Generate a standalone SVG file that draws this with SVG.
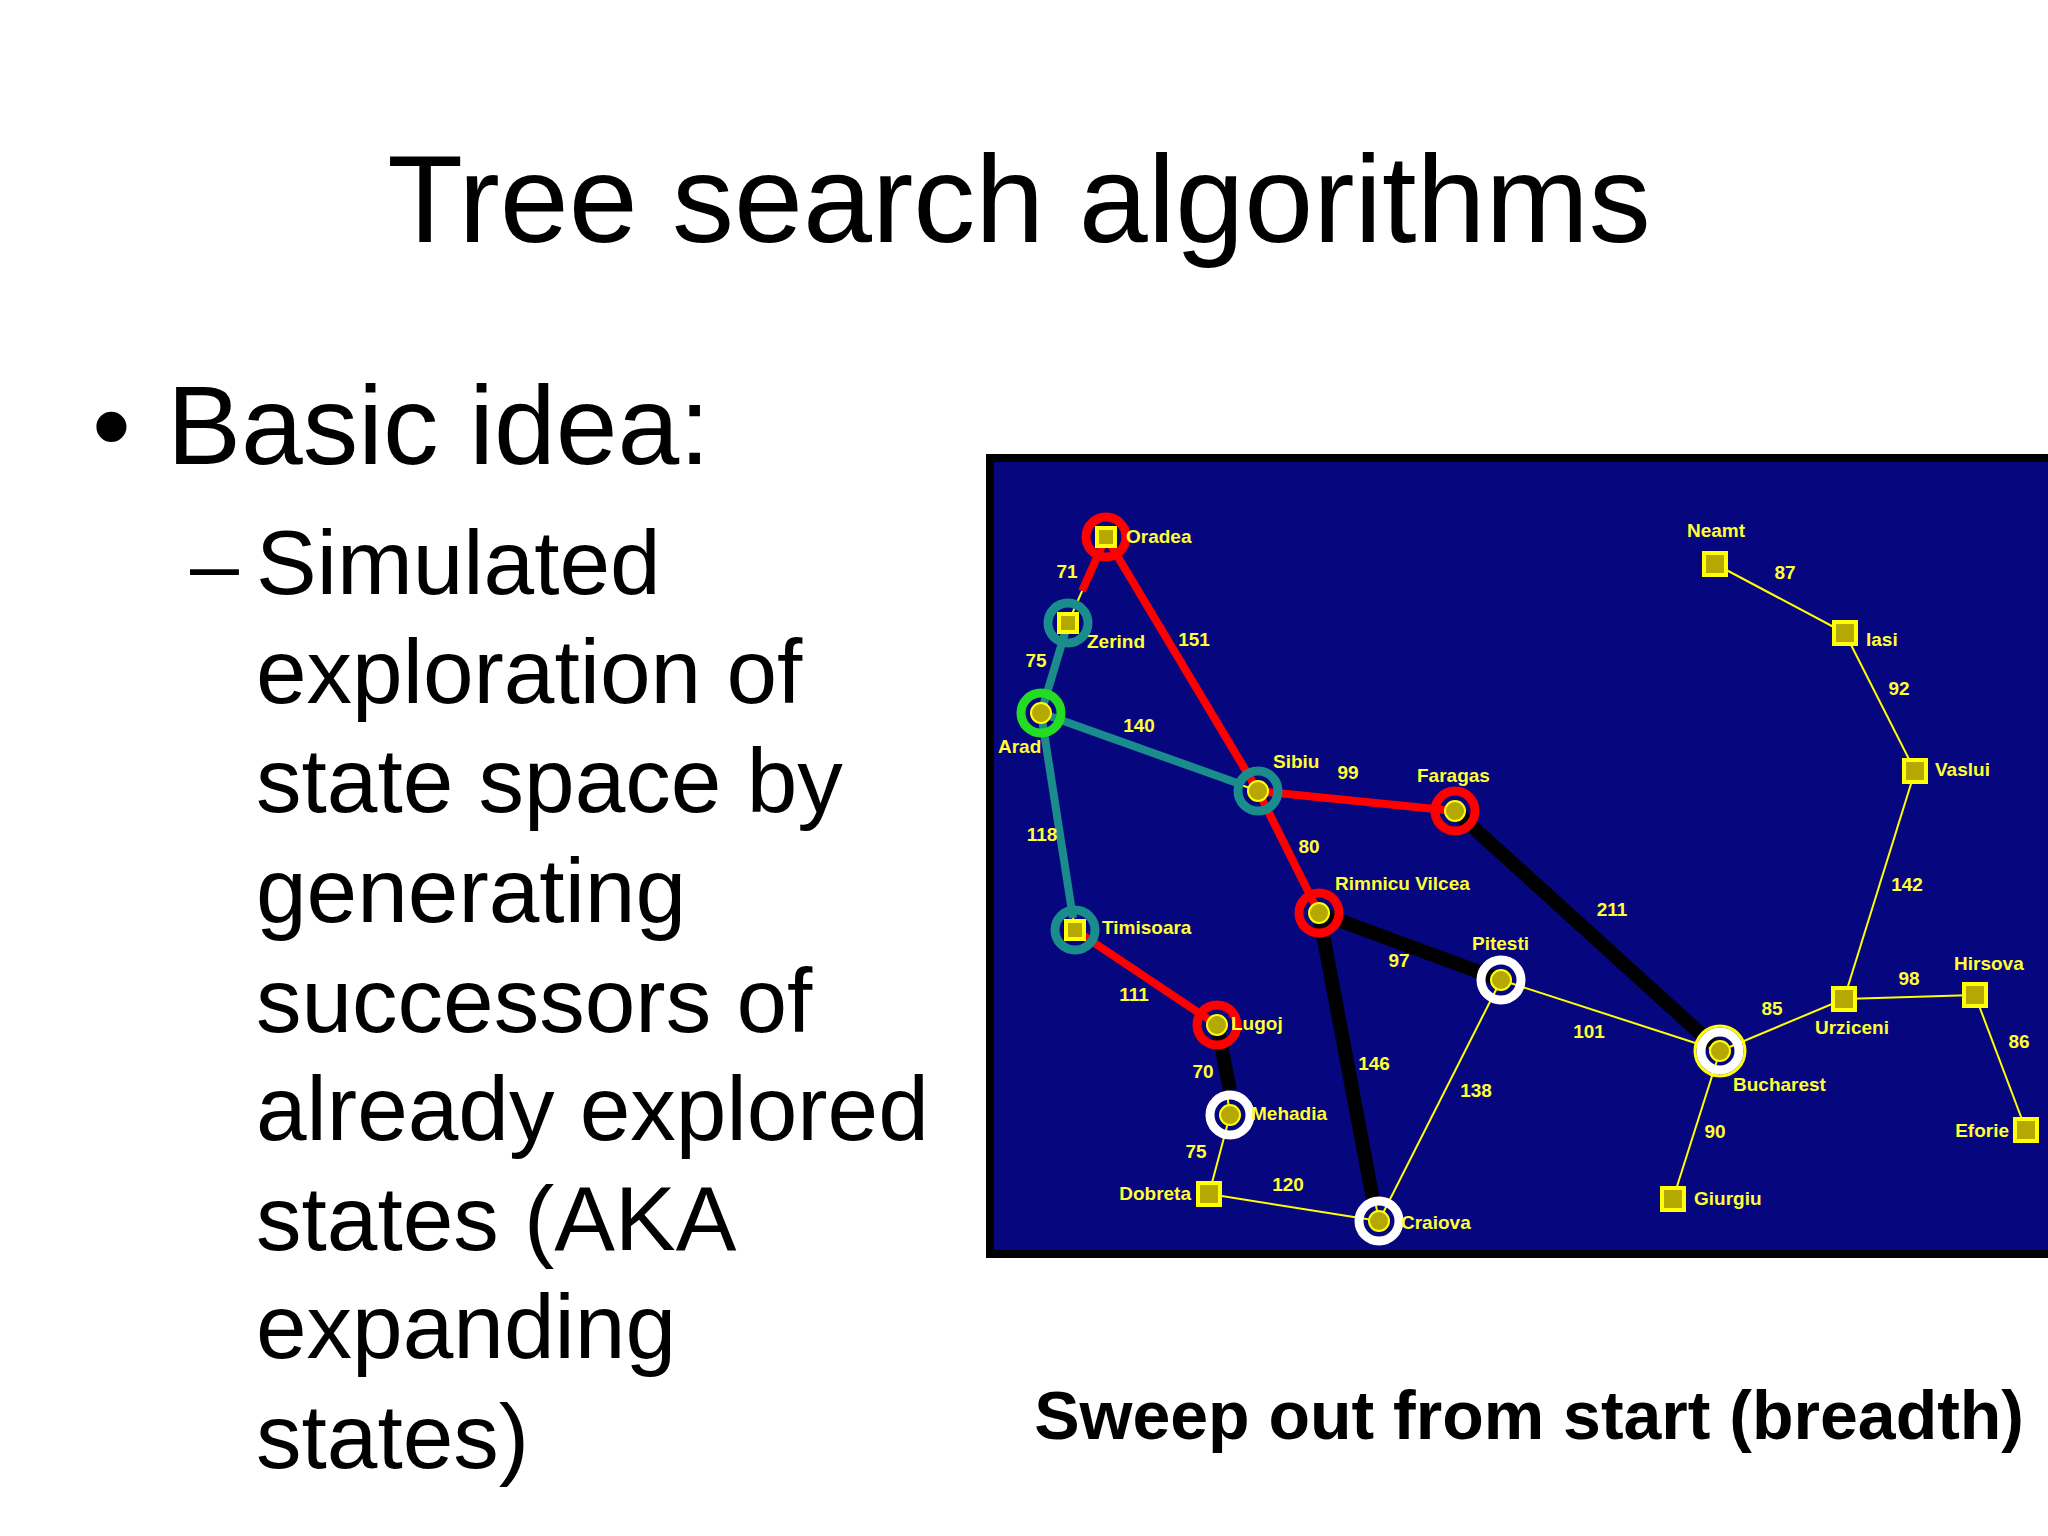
<svg xmlns="http://www.w3.org/2000/svg" width="2048" height="1536" viewBox="0 0 2048 1536">
<style>
.t{font-family:"Liberation Sans",Arial,sans-serif;fill:#000}
.l{font-family:"Liberation Sans",Arial,sans-serif;font-weight:bold;font-size:19px;fill:#ffff33}
.e{font-family:"Liberation Sans",Arial,sans-serif;font-weight:bold;font-size:19px;fill:#ffff33;text-anchor:middle}
.y{stroke:#ffff00;stroke-width:2;fill:none}
.red{stroke:#ff0000;stroke-width:8}
.teal{stroke:#1a8c8c;stroke-width:8}
.blk{stroke:#000;stroke-width:14}
.sq{fill:#b5a800;stroke:#ffff00;stroke-width:4}
.dot{fill:#b5a800;stroke:#ffff00;stroke-width:2}
</style>
<rect width="2048" height="1536" fill="#fff"/>
<text class="t" x="1019" y="242" font-size="124" text-anchor="middle">Tree search algorithms</text>
<text class="t" x="92" y="464" font-size="111">•</text>
<text class="t" x="167" y="464" font-size="111">Basic idea:</text>
<text class="t" x="190" y="594" font-size="88">–</text>
<g class="t" font-size="91">
<text x="256" y="594">Simulated</text>
<text x="256" y="703">exploration of</text>
<text x="256" y="812">state space by</text>
<text x="256" y="922">generating</text>
<text x="256" y="1032">successors of</text>
<text x="256" y="1140">already explored</text>
<text x="256" y="1250">states (AKA</text>
<text x="256" y="1358">expanding</text>
<text x="256" y="1468">states)</text>
</g>
<text class="t" x="2024" y="1439" font-size="68" font-weight="bold" text-anchor="end">Sweep out from start (breadth)</text>
<rect x="990" y="458" width="1070" height="796" fill="#06067f" stroke="#000" stroke-width="8"/>
<g id="connectors">
<g class="y">
<line x1="1106" y1="537" x2="1068" y2="623"/><line x1="1106" y1="537" x2="1258" y2="791"/>
<line x1="1068" y1="623" x2="1041" y2="713"/><line x1="1041" y1="713" x2="1258" y2="791"/>
<line x1="1041" y1="713" x2="1075" y2="930"/><line x1="1258" y1="791" x2="1455" y2="811"/>
<line x1="1258" y1="791" x2="1319" y2="913"/><line x1="1075" y1="930" x2="1217" y2="1025"/>
<line x1="1217" y1="1025" x2="1230" y2="1115"/><line x1="1230" y1="1115" x2="1209" y2="1194"/>
<line x1="1209" y1="1194" x2="1379" y2="1221"/><line x1="1319" y1="913" x2="1379" y2="1221"/>
<line x1="1319" y1="913" x2="1501" y2="980"/><line x1="1379" y1="1221" x2="1501" y2="980"/>
<line x1="1501" y1="980" x2="1720" y2="1051"/><line x1="1455" y1="811" x2="1720" y2="1051"/>
<line x1="1720" y1="1051" x2="1673" y2="1199"/><line x1="1720" y1="1051" x2="1844" y2="999"/>
<line x1="1844" y1="999" x2="1975" y2="995"/><line x1="1975" y1="995" x2="2026" y2="1130"/>
<line x1="1844" y1="999" x2="1915" y2="771"/><line x1="1915" y1="771" x2="1845" y2="633"/>
<line x1="1845" y1="633" x2="1715" y2="564"/>
</g>
<line class="red" x1="1106" y1="537" x2="1082" y2="591"/>
<line class="red" x1="1106" y1="537" x2="1258" y2="791"/>
<line class="teal" x1="1068" y1="623" x2="1041" y2="713"/>
<line class="teal" x1="1041" y1="713" x2="1240" y2="784"/>
<line class="teal" x1="1041" y1="713" x2="1073" y2="918"/>
<line class="red" x1="1258" y1="791" x2="1455" y2="811"/>
<line class="red" x1="1258" y1="791" x2="1319" y2="913"/>
<line class="red" x1="1075" y1="930" x2="1217" y2="1025"/>
<line class="blk" x1="1217" y1="1025" x2="1230" y2="1090"/>
<line class="blk" x1="1455" y1="811" x2="1712" y2="1044"/>
<line class="blk" x1="1319" y1="913" x2="1501" y2="980"/>
<line class="blk" x1="1319" y1="913" x2="1374" y2="1205"/>
</g>
<g id="nodes">
<g id="n-oradea"><circle cx="1106" cy="537" r="20" fill="none" stroke="#f00" stroke-width="9"/><rect class="sq" x="1097" y="528" width="18" height="18"/><text class="l" x="1126" y="543">Oradea</text></g>
<g id="n-zerind"><circle cx="1068" cy="623" r="20" fill="none" stroke="#1a8c8c" stroke-width="9"/><rect class="sq" x="1059" y="614" width="18" height="18"/><text class="l" x="1087" y="648">Zerind</text></g>
<g id="n-arad"><circle cx="1041" cy="713" r="20" fill="none" stroke="#22dd22" stroke-width="9"/><circle class="dot" cx="1041" cy="713" r="10"/><text class="l" x="998" y="753">Arad</text></g>
<g id="n-sibiu"><circle cx="1258" cy="791" r="20" fill="none" stroke="#1a8c8c" stroke-width="9"/><circle class="dot" cx="1258" cy="791" r="10"/><text class="l" x="1273" y="768">Sibiu</text></g>
<g id="n-faragas"><circle cx="1455" cy="811" r="20" fill="none" stroke="#f00" stroke-width="9"/><circle class="dot" cx="1455" cy="811" r="10"/><text class="l" x="1417" y="782">Faragas</text></g>
<g id="n-rimnicu"><circle cx="1319" cy="913" r="20" fill="none" stroke="#f00" stroke-width="9"/><circle class="dot" cx="1319" cy="913" r="10"/><text class="l" x="1335" y="890">Rimnicu Vilcea</text></g>
<g id="n-timisoara"><circle cx="1075" cy="930" r="20" fill="none" stroke="#1a8c8c" stroke-width="9"/><rect class="sq" x="1066" y="921" width="18" height="18"/><text class="l" x="1102" y="934">Timisoara</text></g>
<g id="n-lugoj"><circle cx="1217" cy="1025" r="20" fill="none" stroke="#f00" stroke-width="9"/><circle class="dot" cx="1217" cy="1025" r="10"/><text class="l" x="1231" y="1030">Lugoj</text></g>
<g id="n-mehadia"><circle cx="1230" cy="1115" r="20" fill="none" stroke="#fff" stroke-width="9"/><circle class="dot" cx="1230" cy="1115" r="10"/><text class="l" x="1251" y="1120">Mehadia</text></g>
<g id="n-dobreta"><rect class="sq" x="1198" y="1183" width="22" height="22"/><text class="l" x="1191" y="1200" text-anchor="end">Dobreta</text></g>
<g id="n-craiova"><circle cx="1379" cy="1221" r="20" fill="none" stroke="#fff" stroke-width="9"/><circle class="dot" cx="1379" cy="1221" r="10"/><text class="l" x="1401" y="1229">Craiova</text></g>
<g id="n-pitesti"><circle cx="1501" cy="980" r="20" fill="none" stroke="#fff" stroke-width="9"/><circle class="dot" cx="1501" cy="980" r="10"/><text class="l" x="1472" y="950">Pitesti</text></g>
<g id="n-bucharest"><circle cx="1720" cy="1051" r="25" fill="none" stroke="#ffff00" stroke-width="3"/><circle cx="1720" cy="1051" r="19" fill="none" stroke="#fff" stroke-width="9"/><circle class="dot" cx="1720" cy="1051" r="10"/><text class="l" x="1733" y="1091">Bucharest</text></g>
<g id="n-giurgiu"><rect class="sq" x="1662" y="1188" width="22" height="22"/><text class="l" x="1694" y="1205">Giurgiu</text></g>
<g id="n-urziceni"><rect class="sq" x="1833" y="988" width="22" height="22"/><text class="l" x="1815" y="1034">Urziceni</text></g>
<g id="n-hirsova"><rect class="sq" x="1964" y="984" width="22" height="22"/><text class="l" x="1954" y="970">Hirsova</text></g>
<g id="n-eforie"><rect class="sq" x="2015" y="1119" width="22" height="22"/><text class="l" x="2009" y="1137" text-anchor="end">Eforie</text></g>
<g id="n-vaslui"><rect class="sq" x="1904" y="760" width="22" height="22"/><text class="l" x="1935" y="776">Vaslui</text></g>
<g id="n-iasi"><rect class="sq" x="1834" y="622" width="22" height="22"/><text class="l" x="1866" y="646">Iasi</text></g>
<g id="n-neamt"><rect class="sq" x="1704" y="553" width="22" height="22"/><text class="l" x="1687" y="537">Neamt</text></g>
</g>
<g id="edge-labels">
<text class="e" x="1067" y="578">71</text><text class="e" x="1194" y="646">151</text>
<text class="e" x="1036" y="667">75</text><text class="e" x="1139" y="732">140</text>
<text class="e" x="1042" y="841">118</text><text class="e" x="1348" y="779">99</text>
<text class="e" x="1309" y="853">80</text><text class="e" x="1612" y="916">211</text>
<text class="e" x="1399" y="967">97</text><text class="e" x="1134" y="1001">111</text>
<text class="e" x="1374" y="1070">146</text><text class="e" x="1476" y="1097">138</text>
<text class="e" x="1589" y="1038">101</text><text class="e" x="1203" y="1078">70</text>
<text class="e" x="1196" y="1158">75</text><text class="e" x="1288" y="1191">120</text>
<text class="e" x="1772" y="1015">85</text><text class="e" x="1715" y="1138">90</text>
<text class="e" x="1909" y="985">98</text><text class="e" x="2019" y="1048">86</text>
<text class="e" x="1907" y="891">142</text><text class="e" x="1899" y="695">92</text>
<text class="e" x="1785" y="579">87</text>
</g>
</svg>
